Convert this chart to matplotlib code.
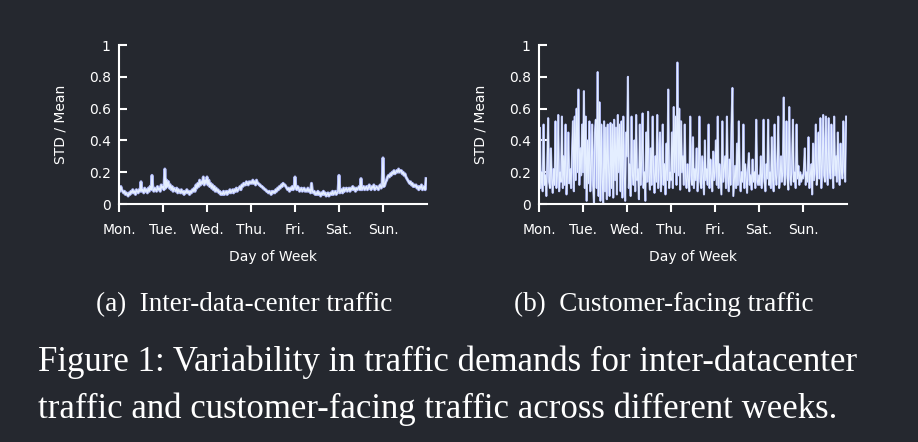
import matplotlib
matplotlib.use("Agg")
import matplotlib.pyplot as plt
import numpy as np

# samples per day (half-hour bins)
PER_DAY = 48
DAYS = ["Mon.", "Tue.", "Wed.", "Thu.", "Fri.", "Sat.", "Sun."]

inter_dc = [
    # Mon
    0.10, 0.08, 0.11, 0.09, 0.08, 0.07, 0.08, 0.06, 0.07, 0.06, 0.05, 0.07, 0.06, 0.08, 0.07, 0.09,
    0.07, 0.08, 0.06, 0.09, 0.08, 0.07, 0.09, 0.08, 0.14, 0.08, 0.09, 0.07, 0.10, 0.08, 0.09, 0.07,
    0.10, 0.08, 0.11, 0.09, 0.18, 0.09, 0.08, 0.10, 0.09, 0.08, 0.11, 0.09, 0.10, 0.08, 0.12, 0.10,
    # Tue
    0.11, 0.09, 0.22, 0.10, 0.15, 0.11, 0.14, 0.10, 0.12, 0.09, 0.11, 0.08, 0.10, 0.09, 0.08, 0.10,
    0.07, 0.09, 0.08, 0.07, 0.09, 0.07, 0.08, 0.06, 0.08, 0.07, 0.09, 0.07, 0.08, 0.06, 0.08, 0.07,
    0.09, 0.08, 0.10, 0.08, 0.12, 0.10, 0.13, 0.11, 0.15, 0.12, 0.14, 0.13, 0.17, 0.12, 0.15, 0.13,
    # Wed
    0.17, 0.12, 0.15, 0.11, 0.13, 0.10, 0.12, 0.09, 0.11, 0.08, 0.10, 0.08, 0.09, 0.07, 0.08, 0.06,
    0.07, 0.06, 0.08, 0.06, 0.07, 0.08, 0.06, 0.08, 0.07, 0.09, 0.07, 0.08, 0.09, 0.07, 0.09, 0.08,
    0.10, 0.08, 0.09, 0.10, 0.11, 0.09, 0.12, 0.11, 0.13, 0.12, 0.12, 0.14, 0.13, 0.12, 0.14, 0.13,
    # Thu
    0.14, 0.13, 0.15, 0.13, 0.14, 0.12, 0.15, 0.13, 0.13, 0.12, 0.12, 0.11, 0.11, 0.10, 0.10, 0.09,
    0.09, 0.08, 0.08, 0.07, 0.08, 0.07, 0.06, 0.08, 0.07, 0.08, 0.07, 0.09, 0.08, 0.10, 0.09, 0.11,
    0.10, 0.12, 0.11, 0.13, 0.12, 0.12, 0.11, 0.10, 0.09, 0.10, 0.08, 0.10, 0.09, 0.11, 0.09, 0.10,
    # Fri
    0.17, 0.10, 0.09, 0.11, 0.10, 0.08, 0.09, 0.10, 0.08, 0.09, 0.10, 0.08, 0.09, 0.08, 0.10, 0.08,
    0.09, 0.07, 0.13, 0.08, 0.07, 0.08, 0.06, 0.07, 0.06, 0.08, 0.06, 0.07, 0.05, 0.07, 0.06, 0.08,
    0.06, 0.07, 0.05, 0.06, 0.07, 0.05, 0.06, 0.07, 0.06, 0.08, 0.06, 0.07, 0.08, 0.06, 0.07, 0.08,
    # Sat
    0.18, 0.07, 0.08, 0.09, 0.07, 0.10, 0.08, 0.09, 0.10, 0.08, 0.09, 0.10, 0.08, 0.10, 0.09, 0.11,
    0.09, 0.10, 0.08, 0.10, 0.09, 0.10, 0.11, 0.09, 0.16, 0.09, 0.10, 0.11, 0.09, 0.10, 0.11, 0.09,
    0.10, 0.12, 0.10, 0.09, 0.11, 0.10, 0.12, 0.09, 0.10, 0.11, 0.10, 0.09, 0.11, 0.12, 0.10, 0.11,
    # Sun
    0.29, 0.11, 0.12, 0.14, 0.15, 0.17, 0.18, 0.17, 0.19, 0.18, 0.20, 0.19, 0.21, 0.19, 0.20, 0.21,
    0.20, 0.22, 0.20, 0.21, 0.21, 0.19, 0.20, 0.18, 0.19, 0.17, 0.16, 0.15, 0.14, 0.13, 0.14, 0.12,
    0.13, 0.11, 0.12, 0.11, 0.12, 0.10, 0.11, 0.09, 0.11, 0.10, 0.12, 0.09, 0.10, 0.11, 0.09, 0.16,
]

customer = [
    # Mon
    0.15, 0.48, 0.10, 0.20, 0.08, 0.50, 0.12, 0.18, 0.05, 0.25, 0.54, 0.14, 0.10, 0.35, 0.16, 0.07,
    0.22, 0.12, 0.52, 0.10, 0.18, 0.56, 0.08, 0.20, 0.14, 0.55, 0.10, 0.30, 0.12, 0.50, 0.06, 0.18,
    0.45, 0.13, 0.22, 0.10, 0.30, 0.52, 0.08, 0.55, 0.15, 0.60, 0.20, 0.72, 0.12, 0.35, 0.18, 0.50,
    # Tue
    0.20, 0.71, 0.10, 0.55, 0.02, 0.40, 0.13, 0.52, 0.08, 0.25, 0.50, 0.12, 0.00, 0.45, 0.53, 0.10,
    0.83, 0.05, 0.64, 0.02, 0.50, 0.15, 0.00, 0.52, 0.08, 0.48, 0.03, 0.50, 0.20, 0.05, 0.51, 0.10,
    0.50, 0.04, 0.53, 0.15, 0.48, 0.06, 0.56, 0.20, 0.50, 0.08, 0.52, 0.04, 0.55, 0.18, 0.02, 0.45,
    # Wed
    0.30, 0.80, 0.10, 0.25, 0.05, 0.55, 0.18, 0.12, 0.40, 0.08, 0.56, 0.15, 0.22, 0.03, 0.50, 0.12,
    0.28, 0.57, 0.10, 0.20, 0.02, 0.45, 0.14, 0.58, 0.18, 0.09, 0.35, 0.12, 0.55, 0.20, 0.07, 0.30,
    0.14, 0.56, 0.10, 0.22, 0.45, 0.08, 0.18, 0.50, 0.12, 0.25, 0.06, 0.38, 0.15, 0.72, 0.10, 0.20,
    # Thu
    0.15, 0.45, 0.10, 0.61, 0.20, 0.55, 0.12, 0.89, 0.18, 0.60, 0.09, 0.52, 0.20, 0.30, 0.12, 0.50,
    0.16, 0.10, 0.25, 0.14, 0.08, 0.55, 0.18, 0.12, 0.42, 0.10, 0.22, 0.15, 0.35, 0.08, 0.20, 0.55,
    0.14, 0.10, 0.30, 0.18, 0.06, 0.40, 0.15, 0.22, 0.12, 0.50, 0.10, 0.28, 0.16, 0.08, 0.33, 0.15,
    # Fri
    0.20, 0.40, 0.12, 0.55, 0.10, 0.25, 0.16, 0.06, 0.52, 0.14, 0.22, 0.30, 0.10, 0.55, 0.18, 0.08,
    0.28, 0.12, 0.50, 0.73, 0.05, 0.15, 0.24, 0.10, 0.38, 0.12, 0.52, 0.18, 0.08, 0.20, 0.14, 0.50,
    0.10, 0.25, 0.16, 0.07, 0.22, 0.32, 0.12, 0.18, 0.09, 0.28, 0.14, 0.20, 0.10, 0.53, 0.15, 0.12,
    # Sat
    0.18, 0.12, 0.30, 0.10, 0.20, 0.53, 0.14, 0.08, 0.25, 0.16, 0.53, 0.12, 0.20, 0.10, 0.42, 0.15,
    0.08, 0.50, 0.18, 0.12, 0.24, 0.55, 0.10, 0.16, 0.30, 0.14, 0.20, 0.67, 0.12, 0.22, 0.52, 0.16,
    0.09, 0.61, 0.18, 0.12, 0.25, 0.53, 0.14, 0.20, 0.10, 0.50, 0.16, 0.24, 0.12, 0.20, 0.14, 0.18,
    # Sun
    0.16, 0.22, 0.35, 0.12, 0.20, 0.14, 0.42, 0.10, 0.18, 0.25, 0.06, 0.38, 0.15, 0.22, 0.50, 0.12,
    0.20, 0.45, 0.16, 0.54, 0.10, 0.25, 0.56, 0.18, 0.14, 0.55, 0.22, 0.12, 0.54, 0.20, 0.16, 0.50,
    0.25, 0.10, 0.55, 0.18, 0.30, 0.14, 0.45, 0.22, 0.12, 0.38, 0.20, 0.16, 0.52, 0.24, 0.14, 0.55,
]

BG = "#25282f"
FG = "#ffffff"
LINE_EDGE = "#a7b0f0"
LINE_CORE = "#e4eeff"


def draw_panel(ax, values, edge_lw, core_lw):
    x = np.arange(len(values)) / PER_DAY
    ax.plot(x, values, color=LINE_EDGE, linewidth=edge_lw)
    ax.plot(x, values, color=LINE_CORE, linewidth=core_lw)
    ax.set_facecolor(BG)
    ax.set_xlim(0, 7)
    ax.set_ylim(0, 1)
    ax.set_xticks(range(7))
    ax.set_xticklabels(DAYS)
    ax.set_yticks([0, 0.2, 0.4, 0.6, 0.8, 1])
    ax.set_yticklabels(["0", "0.2", "0.4", "0.6", "0.8", "1"])
    for side in ("top", "right"):
        ax.spines[side].set_visible(False)
    for side in ("left", "bottom"):
        ax.spines[side].set_color(FG)
        ax.spines[side].set_linewidth(1.5)
    ax.tick_params(axis="x", direction="out", length=6, width=1.5, pad=7.5,
                   colors=FG, labelsize=10)
    ax.tick_params(axis="y", direction="in", length=6, width=1.5, pad=6,
                   colors=FG, labelsize=10)
    ax.text(-0.19, 0.5, "STD / Mean", transform=ax.transAxes, rotation=90,
            ha="center", va="center", color=FG, fontsize=10)
    ax.text(0.5, -0.335, "Day of Week", transform=ax.transAxes,
            ha="center", va="center", color=FG, fontsize=10)


fig = plt.figure(figsize=(9.18, 4.42), dpi=100, facecolor=BG)
W, H = 918, 442
ax1 = fig.add_axes([119 / W, (H - 204) / H, 308 / W, 159 / H])
ax2 = fig.add_axes([539 / W, (H - 204) / H, 308 / W, 159 / H])
draw_panel(ax1, inter_dc, 2.2, 1.0)
draw_panel(ax2, customer, 1.5, 0.8)

serif = ["Liberation Serif", "DejaVu Serif"]
fig.text(244 / W, (H - 311) / H, "(a)  Inter-data-center traffic", ha="center",
         va="baseline", color=FG, fontsize=19.5, family=serif)
fig.text(664 / W, (H - 311) / H, "(b)  Customer-facing traffic", ha="center",
         va="baseline", color=FG, fontsize=19.5, family=serif)
fig.text(38 / W, (H - 371) / H,
         "Figure 1: Variability in traffic demands for inter-datacenter",
         ha="left", va="baseline", color=FG, fontsize=25, family=serif)
fig.text(38 / W, (H - 418) / H,
         "traffic and customer-facing traffic across different weeks.",
         ha="left", va="baseline", color=FG, fontsize=25, family=serif)

fig.savefig("out.png", dpi=100, facecolor=BG)
